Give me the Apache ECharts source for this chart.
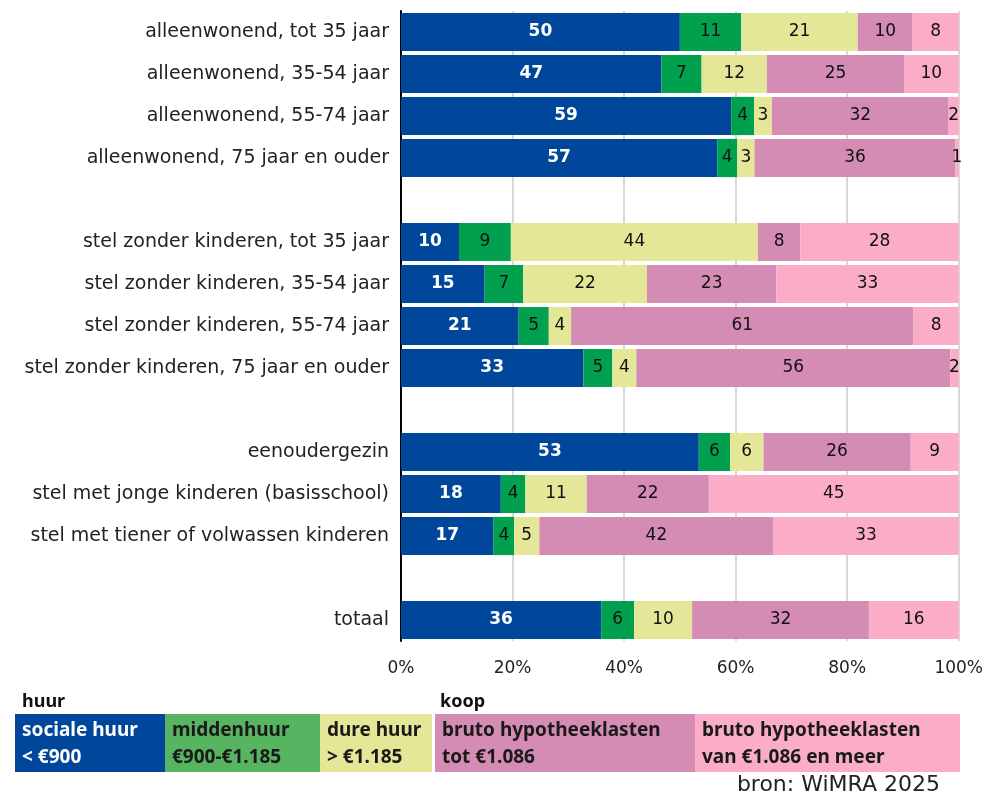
<!DOCTYPE html>
<html>
<head>
<meta charset="utf-8">
<script src="https://cdn.jsdelivr.net/npm/echarts@6/dist/echarts.min.js"></script>
<style>
  html, body { margin: 0; padding: 0; background: #fff; }
  #chart { width: 986px; height: 798px; }
</style>
</head>
<body>
<div id="chart"></div>
<script>
// categorieen (lege regels zijn de witruimte tussen de groepen)
let categories = [
    'alleenwonend, tot 35 jaar',
    'alleenwonend, 35-54 jaar',
    'alleenwonend, 55-74 jaar',
    'alleenwonend, 75 jaar en ouder',
    '',
    'stel zonder kinderen, tot 35 jaar',
    'stel zonder kinderen, 35-54 jaar',
    'stel zonder kinderen, 55-74 jaar',
    'stel zonder kinderen, 75 jaar en ouder',
    ' ',
    'eenoudergezin',
    'stel met jonge kinderen (basisschool)',
    'stel met tiener of volwassen kinderen',
    '  ',
    'totaal'
];

// percentages per woonsegment
let socialeHuur = [50.0, 46.7, 59.2, 56.7, '-', 10.4, 15.0, 21.1, 32.7, '-', 53.4, 17.9, 16.6, '-', 35.9];
let middenHuur  = [11.0,  7.2,  4.1,  3.6, '-',  9.3,  6.9,  5.4,  5.2, '-',  5.6,  4.4,  3.7, '-',  5.9];
let dureHuur    = [20.9, 11.7,  3.2,  3.1, '-', 44.3, 22.2,  4.0,  4.3, '-',  6.0, 11.0,  4.5, '-', 10.4];
let koopLaag    = [ 9.85, 24.6, 31.7, 36.0, '-',  7.6, 23.2, 61.4, 56.3, '-', 26.4, 21.9, 42.0, '-', 31.7];
let koopHoog    = [ 8.25,  9.8,  1.8,  0.7, '-', 28.4, 32.7,  8.1,  1.5, '-',  8.6, 44.8, 33.2, '-', 16.1];

let xTicks = [0, 20, 40, 60, 80, 100];

let seriesNames = ['sociale huur < €900', 'middenhuur €900-€1.185', 'dure huur > €1.185',
    'bruto hypotheeklasten tot €1.086', 'bruto hypotheeklasten van €1.086 en meer'];
let seriesColors = ['#00479b', '#00a04f', '#e4e797', '#d48bb4', '#fbadc8'];
let legendColors = ['#00479b', '#57b461', '#e4e797', '#d48bb4', '#fbadc8'];
let legendLines = [
    ['sociale huur', '< €900'],
    ['middenhuur', '€900-€1.185'],
    ['dure huur', '> €1.185'],
    ['bruto hypotheeklasten', 'tot €1.086'],
    ['bruto hypotheeklasten', 'van €1.086 en meer']
];

let font = '"Noto Sans", Lato, sans-serif';
let wideFont = '"DejaVu Sans", "Noto Sans", sans-serif';
let numFont = '"DejaVu Sans", Verdana, sans-serif';

let myChart = echarts.init(document.getElementById('chart'));

let allData = [socialeHuur, middenHuur, dureHuur, koopLaag, koopHoog];

let series = allData.map(function (d, i) {
    return {
        name: seriesNames[i],
        type: 'bar',
        stack: 'totaal',
        barCategoryGap: '9%',
        data: d,
        itemStyle: { color: seriesColors[i] },
        label: {
            show: true,
            position: 'inside',
            color: i === 0 ? '#ffffff' : '#111111',
            fontWeight: i === 0 ? 'bold' : 'normal',
            fontFamily: numFont,
            fontSize: 17,
            formatter: function (p) {
                if (p.value === '-' || p.value == null) return '';
                return Math.round(p.value);
            }
        },
        emphasis: { disabled: true },
        silent: true
    };
});

// legenda onderaan als blokken
let boxX = [15, 165, 320, 435, 695];
let boxW = [150, 155, 112, 260, 265];
let graphic = [
    { type: 'text', left: 22, top: 693, style: { text: 'huur', font: 'bold 18px ' + font, fill: '#111' } },
    { type: 'text', left: 440, top: 693, style: { text: 'koop', font: 'bold 18px ' + font, fill: '#111' } },
    { type: 'text', right: 46, top: 774, style: { text: 'bron: WiMRA 2025', font: '22px ' + wideFont, fill: '#222' } }
];
legendLines.forEach(function (lines, i) {
    graphic.push({
        type: 'rect',
        shape: { x: boxX[i], y: 714, width: boxW[i], height: 58 },
        style: { fill: legendColors[i] }
    });
    graphic.push({
        type: 'text',
        x: boxX[i] + 7, y: 717,
        style: {
            text: lines[0] + '\n' + lines[1],
            font: 'bold 19px ' + font,
            lineHeight: 27,
            fill: i === 0 ? '#ffffff' : '#1a1a1a'
        }
    });
});

let option = {
    animation: false,
    grid: {
        left: 401,
        right: 26,
        top: 11,
        bottom: 157
    },
    xAxis: {
        type: 'value',
        min: 0,
        max: 100,
        interval: 20,
        axisLine: { show: false },
        axisTick: { show: false },
        splitLine: { show: true, lineStyle: { color: '#d9d9d9', width: 2 } },
        axisLabel: {
            color: '#222',
            fontFamily: numFont,
            fontSize: 17,
            margin: 19,
            formatter: function (v) {
                return xTicks.indexOf(v) >= 0 ? v + '%' : '';
            }
        }
    },
    yAxis: {
        type: 'category',
        inverse: true,
        data: categories,
        axisLine: { show: true, lineStyle: { color: '#000', width: 2 } },
        axisTick: { show: false },
        axisLabel: {
            color: '#222',
            fontFamily: wideFont,
            fontSize: 19,
            margin: 12
        }
    },
    series: series,
    graphic: graphic
};

myChart.setOption(option);
</script>
</body>
</html>
